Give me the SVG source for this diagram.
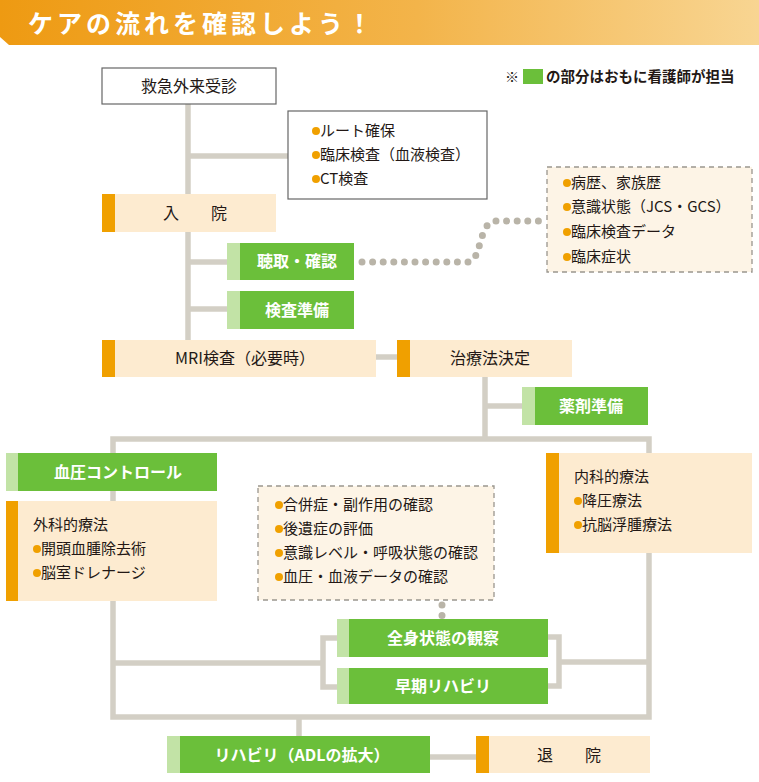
<svg xmlns="http://www.w3.org/2000/svg" width="759" height="782" viewBox="0 0 759 782">
<defs>
<linearGradient id="bg" x1="0" y1="0" x2="1" y2="0">
<stop offset="0" stop-color="#EE9A12"/>
<stop offset="0.55" stop-color="#F3B44A"/>
<stop offset="1" stop-color="#F8D592"/>
</linearGradient>
<style>
text{font-family:"Noto Sans CJK JP","Noto Sans",sans-serif;fill:#231815;}
.t{font-size:15px;}
.c{text-anchor:middle;}
.w{fill:#fff;font-weight:bold;font-size:16px;}
.ln{fill:none;stroke:#D3CFC5;stroke-width:5.5;}
.dot{fill:none;stroke:#B9B4A8;stroke-width:7;stroke-linecap:round;stroke-dasharray:0 10.6;}
.wb{fill:#fff;stroke:#666;stroke-width:1.2;}
.pe{fill:#FDEBD0;}
.or{fill:#F0A000;}
.gr{fill:#6BBF3A;}
.lg{fill:#C2E3A6;}
.db{fill:#FDF4E6;stroke:#9A968E;stroke-width:1.3;stroke-dasharray:5 4;}
.b{fill:#F0A000;}
</style>
</defs>
<g id="title">
<path d="M0 0 H759 V45 H9 L0 37 Z" fill="url(#bg)"/>
<text x="28" y="33" style="font-size:25px;font-weight:bold;fill:#fff;letter-spacing:4px">ケアの流れを確認しよう！</text>
</g>
<g id="legend">
<text x="505" y="82" style="font-size:14px;font-weight:bold">※</text>
<rect x="523" y="69" width="20" height="15" fill="#6BBF3A"/>
<text x="546" y="82" style="font-size:14.5px;font-weight:bold">の部分はおもに看護師が担当</text>
</g>
<g id="connectors">
<path class="ln" d="M188 104 V340"/>
<path class="ln" d="M188 156 H288"/>
<path class="ln" d="M188 262 H227"/>
<path class="ln" d="M188 309 H227"/>
<path class="ln" d="M376 357 H397"/>
<path class="ln" d="M485 377 V439"/>
<path class="ln" d="M485 406 H522"/>
<path class="ln" d="M113 439 H649 V717 H113 Z"/>
<path class="ln" d="M113 663 H323"/>
<path class="ln" d="M337 638 H323 V687 H337"/>
<path class="ln" d="M547 637 H559 V686 H547"/>
<path class="ln" d="M559 662 H649"/>
<path class="ln" d="M299 717 V736"/>
<path class="ln" d="M430 757 H476"/>
<path class="dot" d="M362 262 H468 C482 262 478 221 496 221 H545"/>
<path class="dot" d="M442 605 V616"/>
</g>
<g id="n_er">
<rect class="wb" x="102" y="68" width="174" height="36"/>
<text class="t c" x="189" y="92" style="font-size:16px">救急外来受診</text>
</g>
<g id="n_tests">
<rect class="wb" x="288" y="111" width="199" height="88"/>
<circle class="b" cx="316" cy="131" r="4"/><text class="t" x="320" y="136">ルート確保</text>
<circle class="b" cx="316" cy="155" r="4"/><text class="t" x="320" y="160">臨床検査（血液検査）</text>
<circle class="b" cx="316" cy="179" r="4"/><text class="t" x="320" y="184">CT検査</text>
</g>
<g id="n_admit">
<rect class="pe" x="102" y="194" width="174" height="38"/>
<rect class="or" x="102" y="194" width="13" height="38"/>
<text class="t c" x="195" y="219" style="font-size:16px">入　　院</text>
</g>
<g id="n_history">
<rect class="db" x="547" y="167" width="205" height="105"/>
<circle class="b" cx="567" cy="183" r="4"/><text class="t" x="571" y="188">病歴、家族歴</text>
<circle class="b" cx="567" cy="207" r="4"/><text class="t" x="571" y="212">意識状態（JCS・GCS）</text>
<circle class="b" cx="567" cy="232" r="4"/><text class="t" x="571" y="237">臨床検査データ</text>
<circle class="b" cx="567" cy="257" r="4"/><text class="t" x="571" y="262">臨床症状</text>
</g>
<g id="n_hearing">
<rect class="gr" x="227" y="243" width="127" height="37"/>
<rect class="lg" x="227" y="243" width="13" height="37"/>
<text class="w c" x="297" y="267">聴取・確認</text>
</g>
<g id="n_prep">
<rect class="gr" x="227" y="291" width="127" height="38"/>
<rect class="lg" x="227" y="291" width="13" height="38"/>
<text class="w c" x="297" y="316">検査準備</text>
</g>
<g id="n_mri">
<rect class="pe" x="102" y="340" width="274" height="37"/>
<rect class="or" x="102" y="340" width="13" height="37"/>
<text class="t c" x="245" y="364" style="font-size:16px">MRI検査（必要時）</text>
</g>
<g id="n_decide">
<rect class="pe" x="397" y="340" width="175" height="37"/>
<rect class="or" x="397" y="340" width="13" height="37"/>
<text class="t c" x="490" y="364" style="font-size:16px">治療法決定</text>
</g>
<g id="n_drug">
<rect class="gr" x="522" y="387" width="126" height="38"/>
<rect class="lg" x="522" y="387" width="13" height="38"/>
<text class="w c" x="591" y="412">薬剤準備</text>
</g>
<g id="n_bp">
<rect class="gr" x="6" y="453" width="211" height="38"/>
<rect class="lg" x="6" y="453" width="12" height="38"/>
<text class="w c" x="118" y="478">血圧コントロール</text>
</g>
<g id="n_surg">
<rect class="pe" x="6" y="501" width="211" height="100"/>
<rect class="or" x="6" y="501" width="12" height="100"/>
<text class="t" x="33" y="530">外科的療法</text>
<circle class="b" cx="37" cy="549" r="4"/><text class="t" x="41" y="554">開頭血腫除去術</text>
<circle class="b" cx="37" cy="573" r="4"/><text class="t" x="41" y="578">脳室ドレナージ</text>
</g>
<g id="n_med">
<rect class="pe" x="546" y="453" width="206" height="100"/>
<rect class="or" x="546" y="453" width="13" height="100"/>
<text class="t" x="574" y="482">内科的療法</text>
<circle class="b" cx="578" cy="501" r="4"/><text class="t" x="582" y="506">降圧療法</text>
<circle class="b" cx="578" cy="525" r="4"/><text class="t" x="582" y="530">抗脳浮腫療法</text>
</g>
<g id="n_check">
<rect class="db" x="258" y="486" width="236" height="114"/>
<circle class="b" cx="279" cy="505" r="4"/><text class="t" x="283" y="510">合併症・副作用の確認</text>
<circle class="b" cx="279" cy="529" r="4"/><text class="t" x="283" y="534">後遺症の評価</text>
<circle class="b" cx="279" cy="553" r="4"/><text class="t" x="283" y="558">意識レベル・呼吸状態の確認</text>
<circle class="b" cx="279" cy="577" r="4"/><text class="t" x="283" y="582">血圧・血液データの確認</text>
</g>
<g id="n_observe">
<rect class="gr" x="337" y="619" width="211" height="38"/>
<rect class="lg" x="337" y="619" width="12" height="38"/>
<text class="w c" x="443" y="644">全身状態の観察</text>
</g>
<g id="n_rehab_early">
<rect class="gr" x="337" y="668" width="211" height="36"/>
<rect class="lg" x="337" y="668" width="12" height="36"/>
<text class="w c" x="443" y="692">早期リハビリ</text>
</g>
<g id="n_rehab">
<rect class="gr" x="167" y="736" width="263" height="37"/>
<rect class="lg" x="167" y="736" width="13" height="37"/>
<text class="w c" x="302" y="761">リハビリ（ADLの拡大）</text>
</g>
<g id="n_discharge">
<rect class="pe" x="476" y="736" width="174" height="37"/>
<rect class="or" x="476" y="736" width="13" height="37"/>
<text class="t c" x="569" y="761" style="font-size:16px">退　　院</text>
</g>
</svg>
